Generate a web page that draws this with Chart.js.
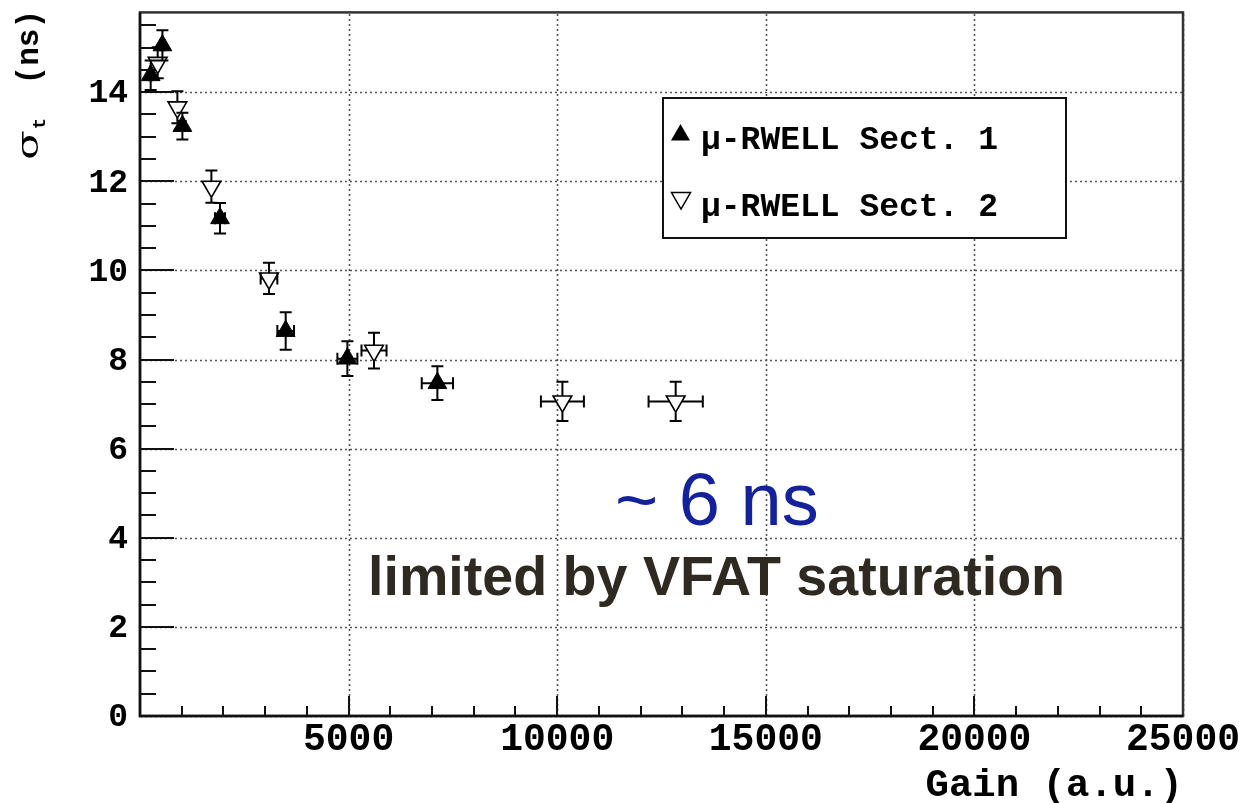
<!DOCTYPE html>
<html>
<head>
<meta charset="utf-8">
<script src="https://cdn.jsdelivr.net/npm/chart.js@4.4.1/dist/chart.umd.min.js"></script>
<style>
  html, body { margin: 0; padding: 0; background: #ffffff; }
  #wrap { width: 1250px; height: 803px; position: relative; }
</style>
</head>
<body>
<div id="wrap"><canvas id="c"></canvas></div>
<script>
// ---- data ----
const sect1Gain      = [256, 537, 1016, 1918, 3492, 4971, 7128];
const sect1GainErr   = [30, 50, 80, 120, 200, 240, 375];
const sect1Sigma     = [14.38, 15.05, 13.24, 11.17, 8.64, 8.02, 7.47];
const sect1SigmaErr  = [0.33, 0.34, 0.30, 0.34, 0.42, 0.39, 0.38];

const sect2Gain      = [424, 896, 1711, 3092, 5609, 10125, 12840];
const sect2GainErr   = [40, 70, 130, 200, 300, 515, 650];
const sect2Sigma     = [14.66, 13.66, 11.88, 9.82, 8.20, 7.06, 7.06];
const sect2SigmaErr  = [0.35, 0.36, 0.36, 0.35, 0.40, 0.44, 0.44];

const seriesNames    = ['\u03bc-RWELL Sect. 1', '\u03bc-RWELL Sect. 2'];
const xTickValues    = [5000, 10000, 15000, 20000, 25000];
const yTickValues    = [0, 2, 4, 6, 8, 10, 12, 14];
const xRange         = [0, 25000];
const yRange         = [0, 15.79];
const xTitle         = 'Gain (a.u.)';
const yTitleSymbol   = '\u03c3';
const yTitleSub      = 't';
const yTitleUnit     = '(ns)';
const noteLine1      = '~ 6 ns';
const noteLine2      = 'limited by VFAT saturation';

// ---- helpers ----
function toPoints(xs, ys, xe, ye) {
  return xs.map((v, i) => ({ x: v, y: ys[i], xErr: xe[i], yErr: ye[i] }));
}

function drawTri(ctx, cx, cy, r, inverted, filled) {
  ctx.beginPath();
  const s = inverted ? -1 : 1;
  ctx.moveTo(cx, cy - s * r);
  ctx.lineTo(cx + r * Math.sqrt(3) / 2, cy + s * r / 2);
  ctx.lineTo(cx - r * Math.sqrt(3) / 2, cy + s * r / 2);
  ctx.closePath();
  if (filled) { ctx.fillStyle = '#000'; ctx.fill(); }
  ctx.strokeStyle = '#000'; ctx.lineWidth = 1.5; ctx.stroke();
}

const MARK_R = 10.8;

const rootStyle = {
  id: 'rootStyle',
  beforeDatasetsDraw(chart) {
    const { ctx, chartArea: a, scales: { x, y } } = chart;
    ctx.save();
    // dotted grid at major ticks
    ctx.strokeStyle = '#555';
    ctx.lineWidth = 1.6;
    ctx.setLineDash([2, 3]);
    xTickValues.forEach(v => {
      const px = Math.round(x.getPixelForValue(v)) + 0.5;
      ctx.beginPath(); ctx.moveTo(px, a.bottom); ctx.lineTo(px, a.top); ctx.stroke();
    });
    yTickValues.forEach(v => {
      const py = Math.round(y.getPixelForValue(v)) + 0.5;
      ctx.beginPath(); ctx.moveTo(a.left, py); ctx.lineTo(a.right, py); ctx.stroke();
    });
    ctx.setLineDash([]);

    // inner tick marks
    ctx.strokeStyle = '#111';
    ctx.lineWidth = 2;
    for (let v = xRange[0]; v <= xRange[1]; v += 1000) {
      const px = Math.round(x.getPixelForValue(v));
      const len = (v % 5000 === 0) ? 20 : 10;
      ctx.beginPath(); ctx.moveTo(px, a.bottom); ctx.lineTo(px, a.bottom - len); ctx.stroke();
    }
    for (let v = 0; v <= yRange[1]; v += 0.5) {
      const py = Math.round(y.getPixelForValue(v));
      const len = (Math.abs(v % 2) < 1e-9) ? 34 : 16;
      ctx.beginPath(); ctx.moveTo(a.left, py); ctx.lineTo(a.left + len, py); ctx.stroke();
    }

    // error bars
    ctx.strokeStyle = '#000';
    ctx.lineWidth = 2;
    const cap = 6;
    chart.data.datasets.forEach((ds, di) => {
      const inv = di === 1;
      const r = MARK_R;
      const gUp = inv ? r / 2 : 0, gDn = inv ? r : 0, gSide = inv ? r * 0.577 : 0;
      ds.data.forEach(p => {
        const cx = x.getPixelForValue(p.x), cy = y.getPixelForValue(p.y);
        const yt = y.getPixelForValue(p.y + p.yErr), yb = y.getPixelForValue(p.y - p.yErr);
        const xl = x.getPixelForValue(p.x - p.xErr), xr = x.getPixelForValue(p.x + p.xErr);
        ctx.beginPath();
        if (cy - yt > gUp) { ctx.moveTo(cx, yt); ctx.lineTo(cx, cy - gUp); }
        if (yb - cy > gDn) { ctx.moveTo(cx, cy + gDn); ctx.lineTo(cx, yb); }
        ctx.moveTo(cx - cap, yt); ctx.lineTo(cx + cap, yt);
        ctx.moveTo(cx - cap, yb); ctx.lineTo(cx + cap, yb);
        if (cx - xl > gSide + 1) {
          ctx.moveTo(xl, cy); ctx.lineTo(cx - gSide, cy);
          ctx.moveTo(cx + gSide, cy); ctx.lineTo(xr, cy);
          ctx.moveTo(xl, cy - cap); ctx.lineTo(xl, cy + cap);
          ctx.moveTo(xr, cy - cap); ctx.lineTo(xr, cy + cap);
        }
        ctx.stroke();
      });
    });
    ctx.restore();
  },
  afterDraw(chart) {
    const { ctx, chartArea: a } = chart;
    ctx.save();
    // frame
    ctx.strokeStyle = '#333';
    ctx.lineWidth = 2.5;
    ctx.strokeRect(a.left, a.top, a.right - a.left, a.bottom - a.top);
    ctx.strokeStyle = '#111';
    ctx.beginPath();
    ctx.moveTo(a.left, a.top); ctx.lineTo(a.left, a.bottom); ctx.lineTo(a.right, a.bottom);
    ctx.stroke();

    // y title (rotated)
    ctx.save();
    ctx.translate(38, 160);
    ctx.rotate(-Math.PI / 2);
    ctx.fillStyle = '#000';
    ctx.textBaseline = 'alphabetic';
    ctx.save();
    ctx.scale(1.45, 1);
    ctx.font = '30px "DejaVu Serif"';
    ctx.fillText(yTitleSymbol, 0, 0);
    const sw = ctx.measureText(yTitleSymbol).width * 1.45;
    ctx.restore();
    ctx.font = 'bold 19px "Liberation Mono"';
    ctx.fillText(yTitleSub, sw + 1, 7);
    ctx.font = 'bold 31px "Liberation Mono"';
    ctx.textAlign = 'right';
    ctx.fillText(yTitleUnit, 150, 0);
    ctx.restore();

    // legend box
    ctx.fillStyle = '#fff';
    ctx.fillRect(663, 98, 403, 140);
    ctx.strokeStyle = '#111';
    ctx.lineWidth = 2;
    ctx.strokeRect(663, 98, 403, 140);
    drawTri(ctx, 680.5, 135, 9.5, false, true);
    drawTri(ctx, 681, 198, 11, true, false);
    ctx.fillStyle = '#000';
    ctx.font = 'bold 33px "Liberation Mono"';
    ctx.textAlign = 'left';
    ctx.textBaseline = 'alphabetic';
    ctx.fillText(seriesNames[0], 701, 149);
    ctx.fillText(seriesNames[1], 701, 216);

    // annotations
    ctx.fillStyle = '#13229a';
    ctx.font = '74px "Liberation Sans"';
    ctx.fillText(noteLine1, 615, 525);
    ctx.fillStyle = '#2e2a22';
    ctx.font = 'bold 55.6px "Liberation Sans"';
    ctx.fillText(noteLine2, 368, 595);
    ctx.restore();
  }
};

new Chart(document.getElementById('c'), {
  type: 'scatter',
  data: {
    datasets: [
      {
        label: seriesNames[0],
        data: toPoints(sect1Gain, sect1Sigma, sect1GainErr, sect1SigmaErr),
        pointStyle: 'triangle',
        rotation: 0,
        pointRadius: MARK_R,
        backgroundColor: '#000',
        borderColor: '#000',
        borderWidth: 1
      },
      {
        label: seriesNames[1],
        data: toPoints(sect2Gain, sect2Sigma, sect2GainErr, sect2SigmaErr),
        pointStyle: 'triangle',
        rotation: 180,
        pointRadius: MARK_R,
        backgroundColor: 'rgba(0,0,0,0)',
        borderColor: '#000',
        borderWidth: 1.6
      }
    ]
  },
  options: {
    responsive: true,
    maintainAspectRatio: false,
    animation: false,
    events: [],
    layout: { padding: { top: 10, right: 67, left: 0, bottom: 0 } },
    plugins: { legend: { display: false }, tooltip: { enabled: false } },
    scales: {
      x: {
        type: 'linear',
        min: xRange[0], max: xRange[1],
        afterBuildTicks: s => { s.ticks = xTickValues.map(v => ({ value: v })); },
        afterFit: s => { s.height = 87; s.paddingLeft = 0; s.paddingRight = 0; },
        grid: { display: false, drawTicks: false },
        border: { display: false },
        ticks: {
          color: '#000',
          padding: 5,
          maxRotation: 0,
          autoSkip: false,
          font: { family: 'Liberation Mono', size: 38, weight: 'bold', lineHeight: 1 },
          callback: v => String(v)
        },
        title: {
          display: true,
          text: xTitle,
          align: 'end',
          color: '#000',
          padding: { top: 0, bottom: -3 },
          font: { family: 'Liberation Mono', size: 39, weight: 'bold', lineHeight: 1 }
        }
      },
      y: {
        type: 'linear',
        min: yRange[0], max: yRange[1],
        afterBuildTicks: s => { s.ticks = yTickValues.map(v => ({ value: v })); },
        afterFit: s => { s.width = 140; s.paddingTop = 0; s.paddingBottom = 0; },
        grid: { display: false, drawTicks: false },
        border: { display: false },
        ticks: {
          color: '#000',
          padding: 12,
          labelOffset: 2,
          autoSkip: false,
          font: { family: 'Liberation Mono', size: 33, weight: 'bold', lineHeight: 1 },
          callback: v => String(v)
        }
      }
    }
  },
  plugins: [rootStyle]
});
</script>
</body>
</html>
